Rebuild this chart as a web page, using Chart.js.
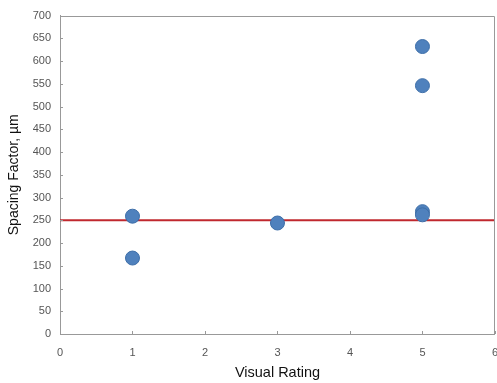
<!DOCTYPE html>
<html>
<head>
<meta charset="utf-8">
<script src="https://cdn.jsdelivr.net/npm/chart.js@4.4.0/dist/chart.umd.min.js"></script>
<style>
  html, body { margin: 0; padding: 0; background: #fff; overflow: hidden; }
  #wrap { width: 497px; height: 383px; overflow: hidden; }
</style>
</head>
<body>
<div id="wrap"><canvas id="myChart" width="510" height="383"></canvas></div>
<script>
// values
var ratings = [1, 1, 3, 5, 5, 5, 5];
var spacing = [259, 167, 244, 632, 546, 269, 262];
var limitX = [0, 6];
var limitY = [250, 250];
var xTicks = [0, 1, 2, 3, 4, 5, 6];

var points = [];
for (var i = 0; i < ratings.length; i++) {
  points.push({ x: ratings[i], y: spacing[i] });
}
var limitLine = [];
for (var j = 0; j < limitX.length; j++) {
  limitLine.push({ x: limitX[j], y: limitY[j] });
}

// small tick marks pointing into the plot, plus the top/right frame
var frameAndTicks = {
  id: 'frameAndTicks',
  afterDraw: function(chart) {
    var c = chart.ctx;
    var xs = chart.scales.x, ys = chart.scales.y;
    var a = chart.chartArea;
    c.save();
    c.strokeStyle = '#999';
    c.lineWidth = 1;
    c.beginPath();
    ys.ticks.forEach(function(t) {
      var py = Math.round(ys.getPixelForValue(t.value)) + 0.5;
      c.moveTo(xs.left, py);
      c.lineTo(xs.left + 3, py);
    });
    xs.ticks.forEach(function(t) {
      var px = Math.round(xs.getPixelForValue(t.value)) + 0.5;
      c.moveTo(px, ys.bottom);
      c.lineTo(px, ys.bottom - 3);
    });
    c.moveTo(a.left, Math.round(a.top) + 0.5);
    c.lineTo(Math.round(a.right) - 0.5, Math.round(a.top) + 0.5);
    c.lineTo(Math.round(a.right) - 0.5, a.bottom);
    c.stroke();
    c.restore();
  }
};

var ctx = document.getElementById('myChart').getContext('2d');
var chart = new Chart(ctx, {
  type: 'scatter',
  data: {
    datasets: [{
      label: 'Visual rating',
      data: points,
      backgroundColor: '#4f81bd',
      borderColor: '#3d6ea8',
      borderWidth: 1,
      pointRadius: 7,
      order: 1
    }, {
      type: 'line',
      label: 'Limit',
      data: limitLine,
      borderColor: '#c0282e',
      borderWidth: 2,
      pointRadius: 0,
      fill: false,
      order: 2
    }]
  },
  plugins: [frameAndTicks],
  options: {
    responsive: false,
    animation: false,
    layout: { padding: { top: 9, right: 0, left: 0, bottom: 0 } },
    plugins: {
      legend: { display: false },
      tooltip: { enabled: false }
    },
    scales: {
      x: {
        type: 'linear',
        min: 0,
        max: 6,
        afterBuildTicks: function(scale) {
          scale.ticks = xTicks.map(function(v) { return { value: v }; });
        },
        afterFit: function(scale) { scale.height = 49; },
        grid: { display: false, drawTicks: false },
        border: { display: true, color: '#999', width: 1 },
        ticks: { color: '#555', font: { family: 'Liberation Sans', size: 11 }, padding: 12 },
        title: {
          display: true,
          text: 'Visual Rating',
          color: '#111',
          font: { family: 'Liberation Sans', size: 14.5 },
          padding: { top: 0, bottom: 1 }
        }
      },
      y: {
        min: 0,
        max: 700,
        afterFit: function(scale) { scale.width = 60; },
        ticks: { stepSize: 50, color: '#555', font: { family: 'Liberation Sans', size: 11 }, padding: 9 },
        grid: { display: false, drawTicks: false },
        border: { display: true, color: '#999', width: 1 },
        title: {
          display: true,
          text: 'Spacing Factor, \u00b5m',
          color: '#111',
          font: { family: 'Liberation Sans', size: 14 },
          padding: { top: 6, bottom: 0 }
        }
      }
    }
  }
});
</script>
</body>
</html>
